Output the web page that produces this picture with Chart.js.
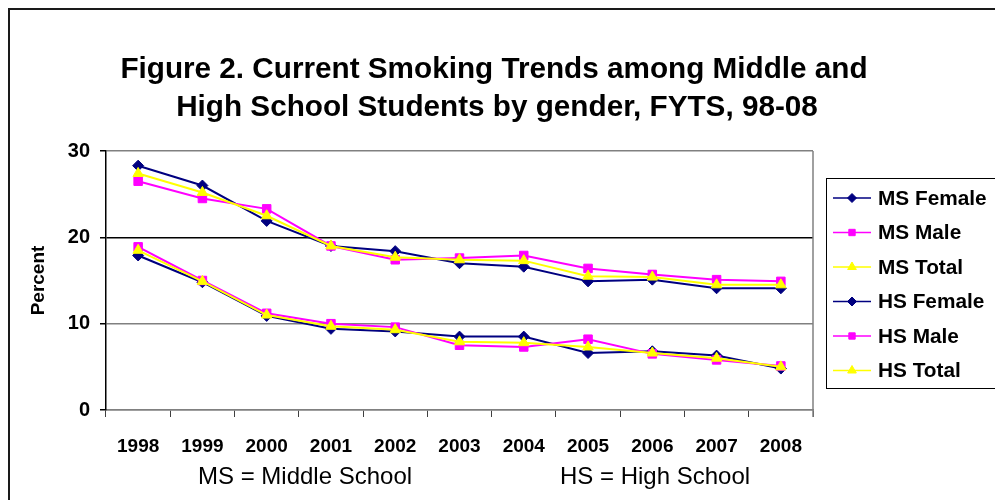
<!DOCTYPE html>
<html>
<head>
<meta charset="utf-8">
<script src="https://cdn.jsdelivr.net/npm/chart.js@4.4.1/dist/chart.umd.min.js"></script>
<style>
html,body{margin:0;padding:0;background:#fff;}
#wrap{width:995px;height:500px;position:relative;}
</style>
</head>
<body>
<div id="wrap"><canvas id="c" width="995" height="500"></canvas></div>
<script>
const years = ['1998','1999','2000','2001','2002','2003','2004','2005','2006','2007','2008'];
const msFemale = [28.3, 26.0, 21.9, 19.0, 18.4, 17.0, 16.6, 14.9, 15.1, 14.1, 14.1];
const msMale   = [26.5, 24.5, 23.3, 19.0, 17.4, 17.6, 17.9, 16.4, 15.7, 15.1, 14.9];
const msTotal  = [27.4, 25.2, 22.5, 19.0, 17.7, 17.4, 17.3, 15.5, 15.4, 14.5, 14.5];
const hsFemale = [17.9, 14.8, 10.9, 9.4, 9.1, 8.5, 8.5, 6.6, 6.8, 6.3, 4.8];
const hsMale   = [18.9, 15.0, 11.2, 10.0, 9.6, 7.5, 7.3, 8.2, 6.5, 5.8, 5.1];
const hsTotal  = [18.5, 14.9, 11.0, 9.7, 9.3, 7.9, 7.8, 7.3, 6.6, 6.0, 5.0];
const seriesNames = ['MS Female','MS Male','MS Total','HS Female','HS Male','HS Total'];
const yTicks = [0, 10, 20, 30];
const titleLines = ['Figure 2. Current Smoking Trends among Middle and', 'High School Students by gender, FYTS, 98-08'];
const footerLeft = 'MS = Middle School';
const footerRight = 'HS = High School';

const FONT = '"Liberation Sans", Arial, Helvetica, sans-serif';
const NAVY = '#000080', MAG = '#FF00FF', YEL = '#FFFF00';
const styles = [
  {color: NAVY, pointStyle: 'rectRot', radius: 5.5, legendRadius: 4.5, order: 2},
  {color: MAG, pointStyle: 'rect', radius: 6, legendRadius: 4.5, order: 1},
  {color: YEL, pointStyle: 'triangle', radius: 6, legendRadius: 5, order: 0}
];
const values = [msFemale, msMale, msTotal, hsFemale, hsMale, hsTotal];

const datasets = values.map((v, i) => {
  const s = styles[i % 3];
  return {
    label: seriesNames[i],
    data: v,
    borderColor: s.color,
    backgroundColor: s.color,
    borderWidth: 2,
    pointStyle: s.pointStyle,
    pointRadius: s.radius,
    pointHoverRadius: s.radius,
    pointBorderWidth: 1,
    pointBorderColor: s.color,
    pointBackgroundColor: s.color,
    tension: 0,
    order: s.order
  };
});

const decor = {
  id: 'decor',
  beforeDraw(chart) {
    const ctx = chart.ctx;
    ctx.save();
    ctx.fillStyle = '#fff';
    ctx.fillRect(0, 0, chart.width, chart.height);
    ctx.strokeStyle = '#1a1a1a';
    ctx.lineWidth = 2;
    ctx.beginPath();
    ctx.moveTo(9, 500);
    ctx.lineTo(9, 9);
    ctx.lineTo(995, 9);
    ctx.stroke();
    ctx.fillStyle = '#000';
    ctx.font = 'bold 29.7px ' + FONT;
    ctx.textAlign = 'center';
    ctx.textBaseline = 'middle';
    ctx.fillText(titleLines[0], 494, 70);
    ctx.fillText(titleLines[1], 497, 108);
    ctx.restore();
  },
  afterDraw(chart) {
    const ctx = chart.ctx;
    const a = chart.chartArea;
    ctx.save();
    ctx.strokeStyle = '#808080';
    ctx.lineWidth = 1.5;
    ctx.beginPath();
    ctx.moveTo(a.right, a.top);
    ctx.lineTo(a.right, a.bottom + 7);
    ctx.stroke();
    ctx.fillStyle = '#000';
    ctx.font = '24px ' + FONT;
    ctx.textBaseline = 'alphabetic';
    ctx.textAlign = 'left';
    ctx.fillText(footerLeft, 198, 484);
    ctx.fillText(footerRight, 560, 484);
    const lx = 826, ly = 178, lw = 180, lh = 210;
    ctx.strokeStyle = '#000';
    ctx.lineWidth = 1;
    ctx.strokeRect(lx + 0.5, ly + 0.5, lw, lh);
    ctx.font = 'bold 20.8px ' + FONT;
    ctx.textBaseline = 'middle';
    chart.data.datasets.forEach((ds, i) => {
      const y = 198 + i * 34.5;
      const s = styles[i % 3];
      ctx.strokeStyle = s.color;
      ctx.lineWidth = 1.5;
      ctx.beginPath();
      ctx.moveTo(833, y);
      ctx.lineTo(871, y);
      ctx.stroke();
      ctx.fillStyle = s.color;
      ctx.strokeStyle = s.color;
      ctx.lineWidth = 1;
      Chart.helpers.drawPoint(ctx, {pointStyle: s.pointStyle, radius: s.legendRadius, borderWidth: 1}, 852, y);
      ctx.fillStyle = '#000';
      ctx.fillText(ds.label, 878, y + 1);
    });
    ctx.restore();
  }
};

new Chart(document.getElementById('c'), {
  type: 'line',
  data: {labels: years, datasets: datasets},
  plugins: [decor],
  options: {
    responsive: false,
    animation: false,
    events: [],
    layout: {padding: {left: 0, right: 182, top: 151, bottom: 0}},
    plugins: {
      legend: {display: false},
      tooltip: {enabled: false},
      title: {display: false}
    },
    scales: {
      x: {
        type: 'category',
        offset: true,
        afterFit(scale) { scale.height = 90; },
        grid: {
          offset: true,
          drawOnChartArea: false,
          drawTicks: true,
          tickLength: 7,
          tickColor: '#404040',
          tickWidth: 1
        },
        border: {display: true, color: '#808080', width: 1.5},
        ticks: {
          color: '#000',
          font: {family: FONT, size: 19, weight: 'bold'},
          padding: 18,
          maxRotation: 0,
          autoSkip: false
        }
      },
      y: {
        min: 0,
        max: 30,
        afterFit(scale) { scale.width = 106; },
        afterBuildTicks(scale) { scale.ticks = yTicks.map(v => ({value: v})); },
        grid: {
          color: ctx => (ctx.tick && ctx.tick.value === 20) ? '#000' : '#808080',
          lineWidth: 1.5,
          drawTicks: true,
          tickLength: 6,
          tickColor: '#000'
        },
        border: {display: true, color: '#000', width: 1.5},
        ticks: {
          color: '#000',
          font: {family: FONT, size: 20, weight: 'bold'},
          padding: 10
        },
        title: {
          display: true,
          text: 'Percent',
          color: '#000',
          font: {family: FONT, size: 19, weight: 'bold'},
          padding: {top: 27, bottom: 0}
        }
      }
    }
  }
});
</script>
</body>
</html>
